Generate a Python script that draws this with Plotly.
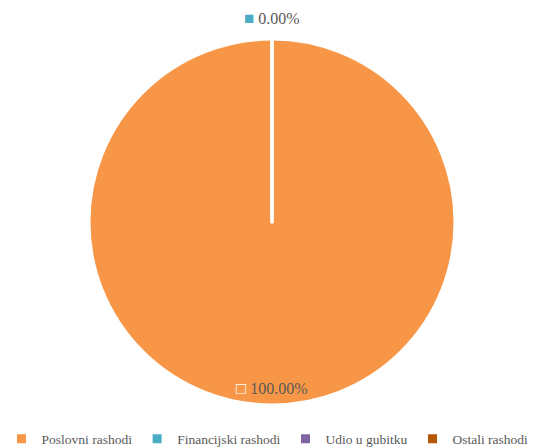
import plotly.graph_objects as go

labels = ["Poslovni rashodi", "Financijski rashodi", "Udio u gubitku", "Ostali rashodi"]
values = [100.0, 0.0, 0.0, 0.0]
colors = ["#F79646", "#4BACC6", "#8064A2", "#B65708"]

total = sum(values)
pcts = [v / total * 100 for v in values]

W, H = 535, 447
cx, cy, r = 272, 222, 183

fig = go.Figure()
fig.add_trace(go.Pie(
    labels=labels, values=values, sort=False, direction="clockwise", rotation=0,
    marker=dict(colors=colors, line=dict(color="white", width=3)),
    textinfo="none", hoverinfo="label+percent",
    domain=dict(x=[(cx - r) / W, (cx + r) / W], y=[(H - cy - r) / H, (H - cy + r) / H]),
    showlegend=True,
))

font_fam = "Liberation Serif, DejaVu Serif, serif"
fig.add_annotation(
    x=cx / W, y=(H - 19) / H, xref="paper", yref="paper", showarrow=False,
    xanchor="center", yanchor="middle",
    text=f"<span style='color:{colors[1]};font-size:17px'>■</span> {pcts[1]:.2f}%",
    font=dict(family=font_fam, size=16, color="#595959"),
)
fig.add_annotation(
    x=cx / W, y=(H - 388) / H, xref="paper", yref="paper", showarrow=False,
    xanchor="center", yanchor="middle",
    text=f"<span style='color:white;font-size:17px'>□</span> {pcts[0]:.2f}%",
    font=dict(family=font_fam, size=16, color="#595959"),
)

fig.update_layout(
    width=W, height=H,
    margin=dict(l=0, r=0, t=0, b=0, autoexpand=False),
    paper_bgcolor="white", plot_bgcolor="white",
    font=dict(family=font_fam, color="#595959", size=13.5),
    legend=dict(orientation="h", x=0.5, xanchor="center", y=(447 - 439) / 447, yanchor="middle",
                font=dict(family=font_fam, size=13.5, color="#595959"),
                itemwidth=30, tracegroupgap=0),
)
fig.write_html("out.html", config={"displayModeBar": False},
               post_script="document.body.style.margin='0';")
